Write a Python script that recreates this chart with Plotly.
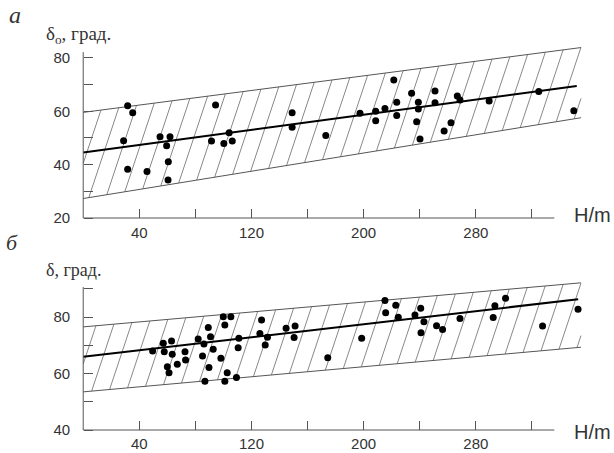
import numpy as np
import plotly.graph_objects as go

# ---------------- data ----------------
# panel "а": delta_o vs H/m
H_a = [31.7, 35.3, 28.8, 54.8, 61.9, 59.5, 60.7, 60.5, 31.7, 45.5,
       94.4, 91.5, 100.3, 104.1, 106.3, 149.0, 149.0, 173.0, 197.4, 208.6,
       208.6, 215.2, 221.5, 223.6, 223.6, 234.2, 239.0, 239.0, 237.8, 240.2,
       250.9, 250.9, 257.4, 262.3, 266.8, 268.7, 289.5, 324.9, 349.9]
D_a = [62.1, 59.5, 49.0, 50.5, 50.5, 47.1, 41.1, 34.2, 38.3, 37.4,
       62.4, 48.9, 47.9, 52.0, 48.9, 59.5, 54.0, 50.9, 59.3, 60.0,
       56.5, 61.1, 71.7, 63.4, 58.4, 66.8, 63.4, 60.9, 56.1, 49.6,
       67.6, 63.2, 52.6, 55.7, 65.7, 64.2, 63.9, 67.4, 60.2]
fit_a_H = [0, 352]
fit_a_D = [44.6, 69.5]
band_a_H = [0, 355]
band_a_up = [59.6, 83.9]
band_a_lo = [27.3, 57.6]

# panel "б": delta vs H/m
H_b = [49.5, 57.1, 57.8, 63.0, 63.5, 60.0, 61.2, 67.1, 72.6, 73.0,
       82.0, 86.1, 89.2, 90.8, 92.7, 85.1, 89.7, 86.8, 98.2, 99.9,
       105.3, 101.0, 102.7, 109.3, 101.0, 111.0, 110.5, 127.2, 126.0, 131.4,
       129.8, 144.7, 151.1, 150.4, 174.4, 198.6, 215.2, 215.7, 222.9, 224.7,
       236.6, 240.7, 243.0, 240.9, 252.0, 256.3, 268.7, 293.6, 292.4, 301.2,
       327.6, 352.9]
D_b = [68.0, 70.7, 67.7, 71.5, 66.8, 62.4, 60.3, 63.3, 67.7, 64.8,
       72.2, 70.4, 76.3, 73.0, 68.6, 66.2, 62.1, 57.3, 65.4, 80.1,
       80.1, 77.2, 60.3, 58.6, 57.3, 72.5, 69.1, 78.9, 74.2, 72.8,
       70.1, 76.0, 76.8, 72.7, 65.6, 72.5, 85.8, 81.5, 84.2, 79.9,
       80.7, 83.1, 78.3, 74.4, 76.9, 75.6, 79.5, 84.0, 79.8, 86.6,
       76.8, 82.7]
fit_b_H = [0, 353]
fit_b_D = [65.9, 86.3]
band_b_H = [0, 355]
band_b_up = [76.5, 92.1]
band_b_lo = [53.5, 69.3]

x_ticks = [40, 80, 120, 160, 200, 240, 280, 320]
x_ticktext = ["40", "", "120", "", "200", "", "280", ""]
ya_ticks = [20, 30, 40, 50, 60, 70, 80]
ya_ticktext = ["20", "", "40", "", "60", "", "80"]
yb_ticks = [40, 50, 60, 70, 80, 90]
yb_ticktext = ["40", "", "60", "", "80", ""]

# ---------------- layout geometry (pixels) ----------------
W, HGT = 614, 453
PX_PER_H = 1.404
X0_PX = 82.8
XR = [-3, 365]
ML = X0_PX + XR[0] * PX_PER_H
PW = (XR[1] - XR[0]) * PX_PER_H
MR = W - ML - PW

A_PPU, A_BASE_PX = 2.667, 218.0   # panel a: px per unit, pixel of y=20
B_PPU, B_BASE_PX = 2.825, 430.0   # panel b: px per unit, pixel of y=40
YRA = [18, 88]
YRB = [38, 94]


def ypx(base_px, base_val, ppu, v):
    return base_px - (v - base_val) * ppu


def dom(base_px, base_val, ppu, rng):
    y_lo = ypx(base_px, base_val, ppu, rng[0])
    y_hi = ypx(base_px, base_val, ppu, rng[1])
    return [1 - y_lo / HGT, 1 - y_hi / HGT]


def paper_x(px):
    return (px - ML) / PW


def paper_y(py):
    return 1 - py / HGT


def hatch(bh, up, lo, k, step, phase):
    hend = bh[1]
    bu = (up[1] - up[0]) / (bh[1] - bh[0])
    bl = (lo[1] - lo[0]) / (bh[1] - bh[0])
    au, al = up[0], lo[0]
    xs, ys = [], []
    for h0 in np.arange(phase - 10 * step, hend, step):
        v0 = al + bl * h0
        h1 = (au - al + (k - bl) * h0) / (k - bu)
        hs, he = max(h0, 0.0), min(h1, hend)
        if hs < he:
            xs += [hs, he, None]
            ys += [v0 + k * (hs - h0), v0 + k * (he - h0), None]
    return xs, ys


SLOPE_PX = 3.0
STEP_H = 18.0 / PX_PER_H

fig = go.Figure()

panels = [
    ("x", "y", H_a, D_a, fit_a_H, fit_a_D, band_a_H, band_a_up, band_a_lo, A_PPU, 4.0),
    ("x2", "y2", H_b, D_b, fit_b_H, fit_b_D, band_b_H, band_b_up, band_b_lo, B_PPU, 6.0),
]
for xa, ya, hx, dy, fh, fd, bh, bu, bl, ppu, ph in panels:
    k = SLOPE_PX * PX_PER_H / ppu
    hx_, hy_ = hatch(bh, bu, bl, k, STEP_H, ph)
    fig.add_trace(go.Scatter(x=hx_, y=hy_, mode="lines", xaxis=xa, yaxis=ya,
                             line=dict(color="#6a6a6a", width=0.8), hoverinfo="skip"))
    fig.add_trace(go.Scatter(x=bh, y=bu, mode="lines", xaxis=xa, yaxis=ya,
                             line=dict(color="#555555", width=1)))
    fig.add_trace(go.Scatter(x=bh, y=bl, mode="lines", xaxis=xa, yaxis=ya,
                             line=dict(color="#555555", width=1)))
    fig.add_trace(go.Scatter(x=fh, y=fd, mode="lines", xaxis=xa, yaxis=ya,
                             line=dict(color="#000000", width=2)))
    fig.add_trace(go.Scatter(x=hx, y=dy, mode="markers", xaxis=xa, yaxis=ya,
                             marker=dict(color="#000000", size=7)))

tickfont = dict(family="Liberation Sans, Arial", size=15, color="#333333")
axis_common = dict(showgrid=False, zeroline=False, showline=False, ticks="inside",
                   ticklen=9, tickwidth=1, tickcolor="#555555", tickfont=tickfont)

fig.update_layout(
    width=W, height=HGT, showlegend=False,
    paper_bgcolor="white", plot_bgcolor="white",
    margin=dict(l=ML, r=MR, t=0, b=0, pad=0, autoexpand=False),
    xaxis=dict(domain=[0, 1], range=XR, anchor="free",
               position=paper_y(A_BASE_PX), tickvals=x_ticks, ticktext=x_ticktext,
               ticklabelstandoff=4, **axis_common),
    yaxis=dict(domain=dom(A_BASE_PX, 20, A_PPU, YRA), range=YRA, anchor="free",
               position=paper_x(X0_PX), tickvals=ya_ticks, ticktext=ya_ticktext,
               ticklabelstandoff=13, **axis_common),
    xaxis2=dict(domain=[0, 1], range=XR, anchor="free",
                position=paper_y(B_BASE_PX), tickvals=x_ticks, ticktext=x_ticktext,
                ticklabelstandoff=3, **axis_common),
    yaxis2=dict(domain=dom(B_BASE_PX, 40, B_PPU, YRB), range=YRB, anchor="free",
                position=paper_x(X0_PX), tickvals=yb_ticks, ticktext=yb_ticktext,
                ticklabelstandoff=13, **axis_common),
)

# axis lines (they stop short of the plotting range, as in the original)
ax_line = dict(color="#555555", width=1)
fig.add_shape(type="line", xref="x", yref="y", x0=0, y0=20, x1=0, y1=82.2, line=ax_line)
fig.add_shape(type="line", xref="x", yref="y", x0=0, y0=20, x1=336, y1=20, line=ax_line)
fig.add_shape(type="line", xref="x2", yref="y2", x0=0, y0=40, x1=0, y1=90.6, line=ax_line)
fig.add_shape(type="line", xref="x2", yref="y2", x0=0, y0=40, x1=336, y1=40, line=ax_line)

serif = "Liberation Serif, Times New Roman"
sans = "Liberation Sans, Arial"
anns = [
    ("<i>а</i>", 15, 15, "center", dict(family=serif, size=24, color="#333333")),
    ("δ<sub>o</sub>, град.", 44, 35, "left", dict(family=serif, size=19, color="#333333")),
    ("<i>б</i>", 12, 243, "center", dict(family=serif, size=22, color="#333333")),
    ("δ, град.", 44, 270, "left", dict(family=serif, size=18, color="#333333")),
    ("H/m", 593, 215, "center", dict(family=sans, size=20, color="#333333")),
    ("H/m", 593, 432, "center", dict(family=sans, size=20, color="#333333")),
]
for txt, px, py, xa, f in anns:
    fig.add_annotation(text=txt, xref="paper", yref="paper", x=paper_x(px), y=paper_y(py),
                       xanchor=xa, yanchor="middle", showarrow=False, font=f)

fig.write_html("out.html", config={"displayModeBar": False},
               post_script="document.body.style.margin='0px';")
